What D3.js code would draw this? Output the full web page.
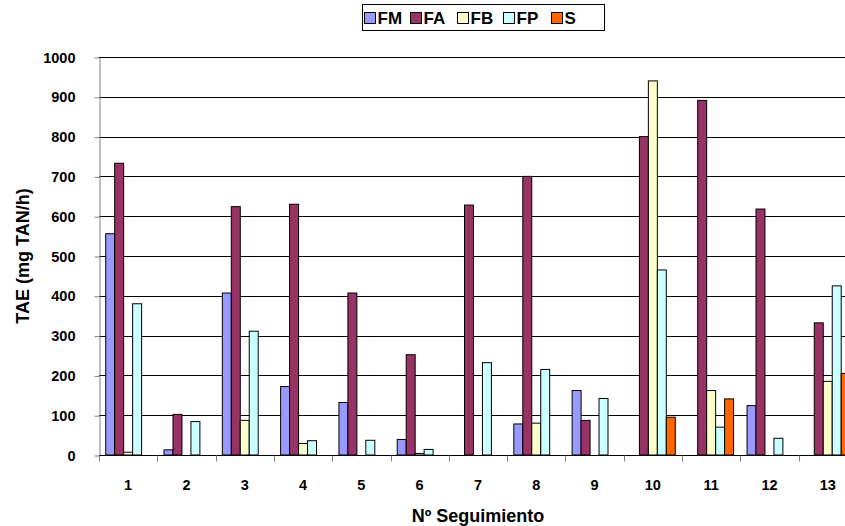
<!DOCTYPE html>
<html>
<head>
<meta charset="utf-8">
<script src="https://cdn.jsdelivr.net/npm/d3@7"></script>
<style>
  html, body { margin: 0; padding: 0; background: #fff; }
  svg { display: block; font-family: "Liberation Sans", Arial, sans-serif; }
</style>
</head>
<body>
<svg id="chart" width="845" height="526"></svg>
<script>
// Follow-up sessions (Nº Seguimiento)
const categories = ["1","2","3","4","5","6","7","8","9","10","11","12","13"];
const seriesNames = ["FM","FA","FB","FP","S"];
const seriesColors = ["#9999FF","#993366","#FFFFCC","#CCFFFF","#FF6600"];

// TAE (mg TAN/h) per session
const FM = [556, 13, 407, 172, 132, 39, 0, 78, 162, 0, 0, 124, 0];
const FA = [733, 102, 624, 630, 407, 252, 628, 700, 87, 800, 891, 618, 332];
const FB = [7, 0, 87, 29, 0, 4, 0, 80, 0, 940, 162, 0, 185];
const FP = [380, 84, 311, 36, 37, 14, 232, 215, 142, 465, 70, 42, 425];
const S  = [0, 0, 0, 0, 0, 0, 0, 0, 0, 95, 141, 0, 205];

const yTicks = [0,100,200,300,400,500,600,700,800,900,1000];

const seriesValues = [FM, FA, FB, FP, S];
const data = categories.map((c, i) => ({
  cat: c,
  vals: seriesNames.map((s, k) => ({ key: s, value: seriesValues[k][i], color: seriesColors[k] }))
}));

const svg = d3.select("#chart");
const plotLeft = 99, plotTop = 57, plotBottom = 455;
const step = 58.3;
const plotRight = plotLeft + step * categories.length;
const FONT = "Liberation Sans, Arial, sans-serif";

const x = d3.scaleBand().domain(categories).range([plotLeft, plotRight]).paddingInner(0).paddingOuter(0);
const groupPad = 1.5 / (5 + 1.5) / 2;
const xs = d3.scaleBand().domain(seriesNames)
  .range([step * groupPad, step * (1 - groupPad)]);
const y = d3.scaleLinear().domain([0, 1000]).range([plotBottom, plotTop]);

// horizontal gridlines
svg.append("g").selectAll("line")
  .data(yTicks.filter(t => t > 0))
  .join("line")
  .attr("x1", plotLeft).attr("x2", 845)
  .attr("y1", d => Math.round(y(d)) + 0.5).attr("y2", d => Math.round(y(d)) + 0.5)
  .attr("stroke", "#000").attr("stroke-width", 1);

// bars
const groups = svg.append("g").selectAll("g")
  .data(data).join("g")
  .attr("transform", d => `translate(${x(d.cat)},0)`);
groups.selectAll("rect")
  .data(d => d.vals.filter(v => v.value > 0))
  .join("rect")
  .attr("x", d => xs(d.key))
  .attr("width", xs.bandwidth())
  .attr("y", d => y(d.value))
  .attr("height", d => plotBottom - y(d.value))
  .attr("fill", d => d.color)
  .attr("stroke", "#000").attr("stroke-width", 1);

// y axis
const yAxis = d3.axisLeft(y).tickValues(yTicks).tickFormat(d3.format("d"))
  .tickSize(5).tickPadding(19).tickSizeOuter(0);
const gy = svg.append("g").attr("transform", `translate(${plotLeft + 0.5},0.5)`).call(yAxis);
gy.attr("font-family", FONT).attr("font-size", 14.5);
gy.select(".domain").attr("stroke", "#808080");
gy.selectAll(".tick line").attr("stroke", "#808080");
gy.selectAll("text").attr("font-weight", "bold").attr("fill", "#000");

// x axis with ticks between categories
const gx = svg.append("g").attr("transform", `translate(0,${plotBottom + 0.5})`);
gx.append("line").attr("x1", plotLeft).attr("x2", 845).attr("y1", 0).attr("y2", 0).attr("stroke", "#000");
gx.selectAll("line.tk")
  .data(categories.map((c, i) => plotLeft + i * step))
  .join("line").attr("class", "tk")
  .attr("x1", d => Math.round(d) + 0.5).attr("x2", d => Math.round(d) + 0.5)
  .attr("y1", 0).attr("y2", 6).attr("stroke", "#808080");
gx.selectAll("text")
  .data(categories).join("text")
  .attr("x", d => x(d) + x.bandwidth() / 2)
  .attr("y", 34)
  .attr("text-anchor", "middle")
  .attr("font-size", 14.5).attr("font-weight", "bold")
  .text(d => d);

// axis titles
svg.append("text")
  .attr("x", (plotLeft + plotRight) / 2).attr("y", 522)
  .attr("text-anchor", "middle").attr("font-size", 18).attr("font-weight", "bold")
  .text("Nº Seguimiento");
svg.append("text")
  .attr("transform", `translate(29,${(plotTop + plotBottom) / 2}) rotate(-90)`)
  .attr("text-anchor", "middle").attr("font-size", 18).attr("font-weight", "bold")
  .text("TAE (mg TAN/h)");

// legend
const lg = svg.append("g");
lg.append("rect").attr("x", 362.5).attr("y", 4.5).attr("width", 242).attr("height", 26)
  .attr("fill", "#fff").attr("stroke", "#000");
const legendX = [364, 410, 457, 503, 551];
const items = lg.selectAll("g.item").data(seriesNames).join("g").attr("class", "item")
  .attr("transform", (d, i) => `translate(${legendX[i]},0)`);
items.append("rect").attr("x", 0.5).attr("y", 12.5).attr("width", 11).attr("height", 11)
  .attr("fill", (d, i) => seriesColors[i]).attr("stroke", "#000");
items.append("text").attr("x", 13.5).attr("y", 24)
  .attr("font-size", 17).attr("font-weight", "bold").text(d => d);
</script>
</body>
</html>
